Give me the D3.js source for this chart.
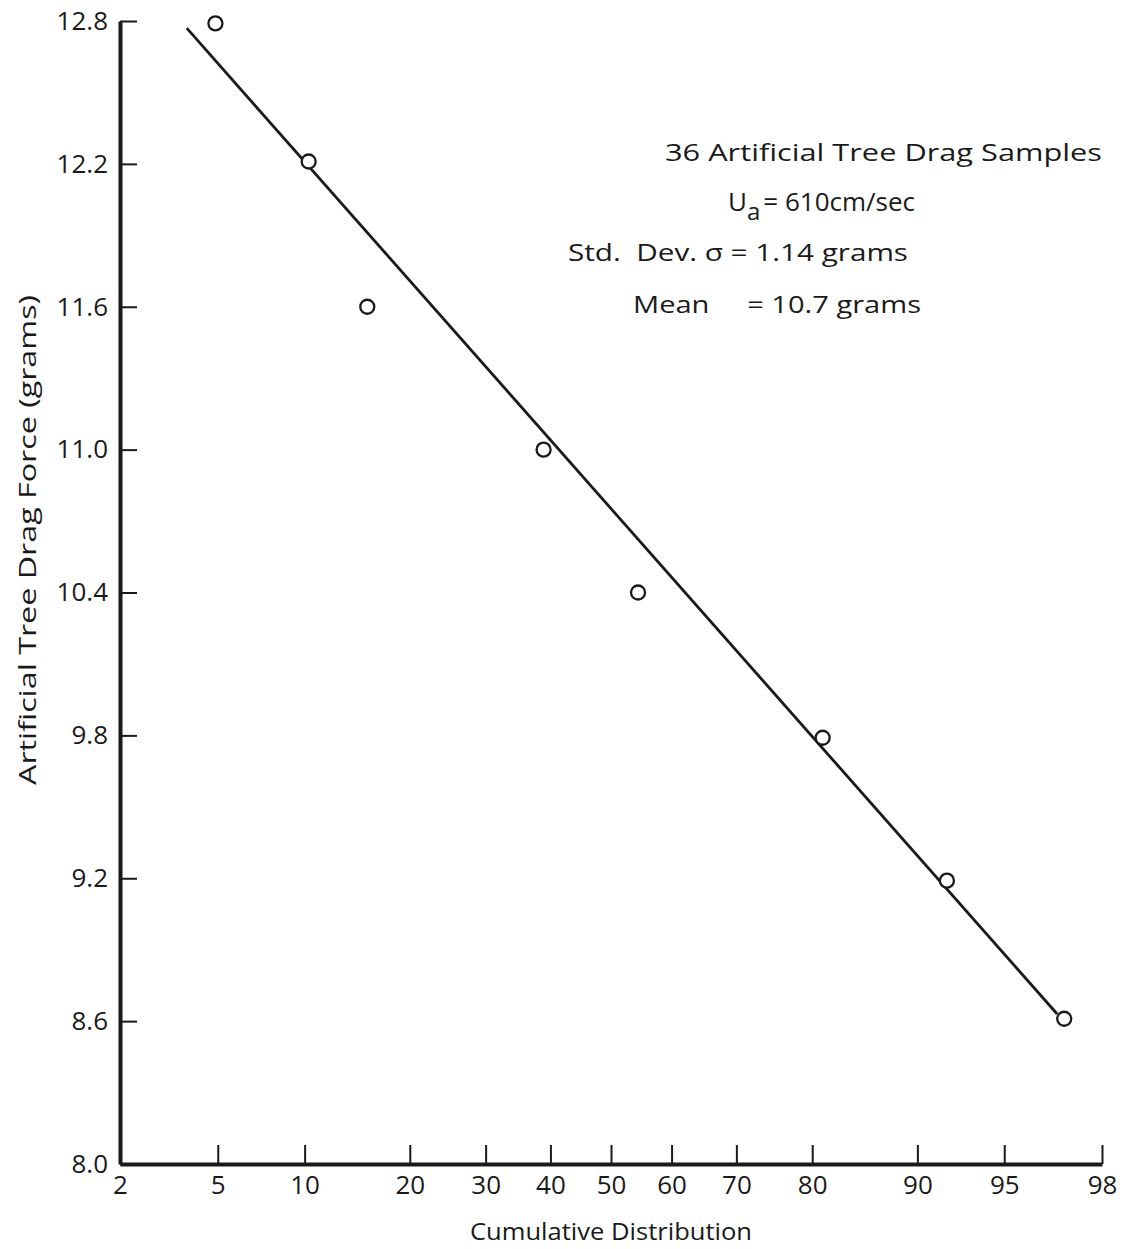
<!DOCTYPE html>
<html>
<head>
<meta charset="utf-8">
<script src="https://cdn.jsdelivr.net/npm/d3@7"></script>
<style>
  body { margin: 0; background: #fff; }
  text { font-family: "Open Sans", "DejaVu Sans", sans-serif; fill: #1a1a1a; white-space: pre; }
</style>
</head>
<body>
<div id="chart"></div>
<script>
// cumulative percent (x) and drag force in grams (y)
const cumPercent = [4.9, 10.3, 15.4, 38.9, 54.5, 81.2, 92.0, 97.1];
const dragForce = [12.79, 12.21, 11.60, 11.00, 10.40, 9.79, 9.19, 8.61];

// fitted line, drawn between its two ends
const fitPercent = [3.8, 96.9];
const fitForce = [12.77, 8.63];

const xTicks = [2, 5, 10, 20, 30, 40, 50, 60, 70, 80, 90, 95, 98];
const yTicks = [8.0, 8.6, 9.2, 9.8, 10.4, 11.0, 11.6, 12.2, 12.8];

const notes = ["36 Artificial Tree Drag Samples", "= 610cm/sec", "Std.  Dev. \u03c3 = 1.14 grams", "Mean     = 10.7 grams"];

const width = 1128, height = 1249;
const margin = {top: 21, right: 26, bottom: 85, left: 120};

// inverse of the normal cumulative distribution (Acklam), used for the probability axis
function probit(p) {
    const a = [-39.69683028665376, 220.9460984245205, -275.9285104469687, 138.3577518672690, -30.66479806614716, 2.506628277459239];
    const b = [-54.47609879822406, 161.5858368580409, -155.6989798598866, 66.80131188771972, -13.28068155288572];
    const c = [-0.007784894002430293, -0.3223964580411365, -2.400758277161838, -2.549732539343734, 4.374664141464968, 2.938163982698783];
    const d = [0.007784695709041462, 0.3224671290700398, 2.445134137142996, 3.754408661907416];
    const pl = 0.02425;
    let q, r;
    if (p < pl) {
        q = Math.sqrt(-2 * Math.log(p));
        return (((((c[0]*q+c[1])*q+c[2])*q+c[3])*q+c[4])*q+c[5]) / ((((d[0]*q+d[1])*q+d[2])*q+d[3])*q+1);
    }
    if (p > 1 - pl) {
        q = Math.sqrt(-2 * Math.log(1 - p));
        return -(((((c[0]*q+c[1])*q+c[2])*q+c[3])*q+c[4])*q+c[5]) / ((((d[0]*q+d[1])*q+d[2])*q+d[3])*q+1);
    }
    q = p - 0.5;
    r = q * q;
    return (((((a[0]*r+a[1])*r+a[2])*r+a[3])*r+a[4])*r+a[5])*q / (((((b[0]*r+b[1])*r+b[2])*r+b[3])*r+b[4])*r+1);
}

const svg = d3.select("#chart").append("svg")
    .attr("width", width)
    .attr("height", height);

const zScale = d3.scaleLinear()
    .domain([probit(0.02), probit(0.98)])
    .range([margin.left, width - margin.right]);
const x = p => zScale(probit(p / 100));

const y = d3.scaleLinear()
    .domain([8.0, 12.8])
    .range([height - margin.bottom, margin.top]);

// axes
const xAxis = d3.axisBottom(zScale)
    .tickValues(xTicks.map(p => probit(p / 100)))
    .tickFormat((d, i) => xTicks[i])
    .tickSizeInner(-19)
    .tickSizeOuter(0)
    .tickPadding(12);

const gx = svg.append("g")
    .attr("transform", "translate(0," + (height - margin.bottom) + ")")
    .call(xAxis);

const yAxis = d3.axisLeft(y)
    .tickValues(yTicks)
    .tickFormat(d3.format(".1f"))
    .tickSizeInner(-17)
    .tickSizeOuter(0)
    .tickPadding(6);

const gy = svg.append("g")
    .attr("transform", "translate(" + margin.left + ",0)")
    .call(yAxis);

gx.selectAll(".domain").attr("stroke", "#1a1a1a").attr("stroke-width", 4);
gy.selectAll(".domain").attr("stroke", "#1a1a1a").attr("stroke-width", 4);
svg.selectAll(".tick line").attr("stroke", "#1a1a1a").attr("stroke-width", 2);
svg.selectAll(".tick text")
    .style("font-family", "'Open Sans', 'DejaVu Sans', sans-serif")
    .style("font-size", "26px")
    .attr("fill", "#1a1a1a");
gy.selectAll(".tick text").attr("x", -12);
gx.selectAll(".tick text").attr("dy", "0.71em");

// fitted line
svg.append("line")
    .attr("x1", x(fitPercent[0]))
    .attr("y1", y(fitForce[0]))
    .attr("x2", x(fitPercent[1]))
    .attr("y2", y(fitForce[1]))
    .attr("stroke", "#1a1a1a")
    .attr("stroke-width", 2.8);

// sample points
svg.selectAll("circle.pt")
    .data(cumPercent)
    .enter().append("circle")
    .attr("class", "pt")
    .attr("cx", d => x(d))
    .attr("cy", (d, i) => y(dragForce[i]))
    .attr("r", 7)
    .attr("fill", "#fff")
    .attr("stroke", "#1a1a1a")
    .attr("stroke-width", 2.3);

// axis titles
svg.append("text")
    .attr("x", 611)
    .attr("y", 1240)
    .attr("text-anchor", "middle")
    .attr("textLength", 282)
    .attr("lengthAdjust", "spacingAndGlyphs")
    .style("font-size", "24px")
    .text("Cumulative Distribution");

svg.append("text")
    .attr("transform", "translate(36,540) rotate(-90)")
    .attr("text-anchor", "middle")
    .attr("textLength", 490)
    .attr("lengthAdjust", "spacingAndGlyphs")
    .style("font-size", "24px")
    .text("Artificial Tree Drag Force (grams)");

// notes
svg.append("text")
    .attr("x", 665).attr("y", 161)
    .attr("textLength", 437)
    .attr("lengthAdjust", "spacingAndGlyphs")
    .style("font-size", "24px")
    .text(notes[0]);

const ua = svg.append("text")
    .attr("x", 728).attr("y", 211)
    .style("font-size", "26px");
ua.append("tspan").text("U");
ua.append("tspan").attr("dy", 9).style("font-size", "24px").text("a");
ua.append("tspan").attr("dy", -9).attr("dx", 3).text(notes[1]);

svg.append("text")
    .attr("x", 568).attr("y", 261)
    .attr("textLength", 340)
    .attr("lengthAdjust", "spacingAndGlyphs")
    .style("font-size", "24px")
    .text(notes[2]);

svg.append("text")
    .attr("x", 633).attr("y", 313)
    .attr("textLength", 288)
    .attr("lengthAdjust", "spacingAndGlyphs")
    .style("font-size", "24px")
    .text(notes[3]);
</script>
</body>
</html>
